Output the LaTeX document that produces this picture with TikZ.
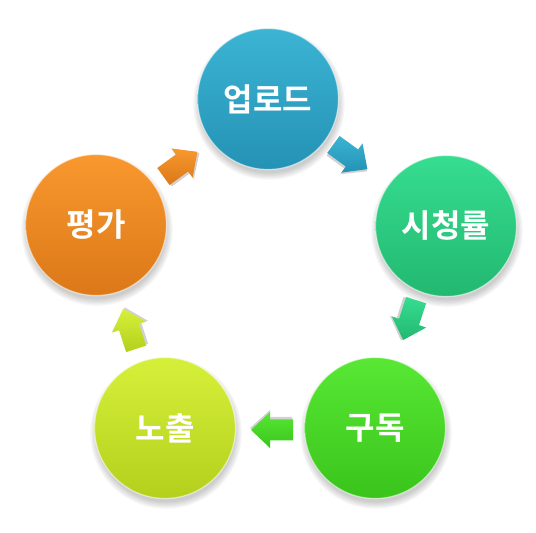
\documentclass[tikz,border=0pt]{standalone}
\usepackage{fontspec}
\newfontfamily\krfont{Noto Sans CJK KR}[BoldFont={Noto Sans CJK KR Bold}]
\usetikzlibrary{calc}
\begin{document}
\begin{tikzpicture}[x=1pt,y=1pt]
\useasboundingbox (0,0) rectangle (536,533);
\tikzset{
  disc/.style={circle, minimum size=141pt, inner sep=0pt, draw=white, draw opacity=0.55, line width=1.2pt},
  lbl/.style={font=\krfont\bfseries\fontsize{32}{34}\selectfont, text=white, inner sep=0pt},
}
\newcommand\mydisc[6]{%
  \foreach \k in {1,...,6}{\fill[black,opacity=0.035] ($(#2,#3)+(1,-5)$) circle ({68+\k*1.3});}
  \node[disc, top color=#4, bottom color=#5] (#1) at (#2,#3) {};
  \node[lbl] (#1-t) at (#1.center) {#6};
}
\newcommand\myarrow[6]{%
  \coordinate (#1) at (#2,#3);
  \begin{scope}[shift={(#1)}, rotate=#4]
    \fill[black, opacity=0.18] (-22,-13) -- (0,-13) -- (0,-20) -- (20,-2) -- (0,16) -- (0,9) -- (-22,9) -- cycle;
    \shade[top color=#5, bottom color=#6] (-23,-10.5) -- (0,-10.5) -- (0,-18) -- (19,0) -- (0,18) -- (0,10.5) -- (-23,10.5) -- cycle;
  \end{scope}
}
\definecolor{upT}{HTML}{3CB4D4}\definecolor{upB}{HTML}{2492B4}
\definecolor{siT}{HTML}{36DD90}\definecolor{siB}{HTML}{22B870}
\definecolor{guT}{HTML}{58E834}\definecolor{guB}{HTML}{3AC41C}
\definecolor{noT}{HTML}{D6F03A}\definecolor{noB}{HTML}{B4D01C}
\definecolor{pyT}{HTML}{F8982E}\definecolor{pyB}{HTML}{DC7818}

\myarrow{a1}{352}{375}{-36}{upT}{upB}
\myarrow{a2}{409}{211}{-108}{siT}{siB}
\myarrow{a3}{270}{103}{180}{guT}{guB}
\myarrow{a4}{129}{206}{108}{noT}{noB}
\myarrow{a5}{182}{370}{36}{pyT}{pyB}

\mydisc{up}{268}{434}{upT}{upB}{업로드}
\mydisc{si}{446}{307}{siT}{siB}{시청률}
\mydisc{gu}{375}{105}{guT}{guB}{구독}
\mydisc{no}{165}{105}{noT}{noB}{노출}
\mydisc{py}{96}{308}{pyT}{pyB}{평가}
\end{tikzpicture}
\end{document}
